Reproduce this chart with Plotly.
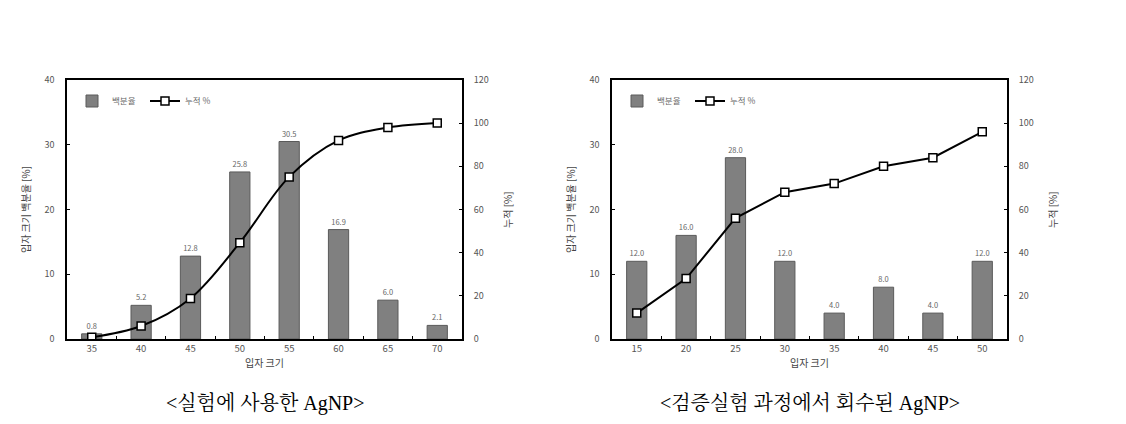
"""
Particle size distribution of AgNP: percentage bars with cumulative line
"""
import plotly.graph_objects as go
from plotly.subplots import make_subplots

# left panel: AgNP used in the experiment
sizes_used = ["35", "40", "45", "50", "55", "60", "65", "70"]
pct_used = [0.8, 5.2, 12.8, 25.8, 30.5, 16.9, 6.0, 2.1]
cum_used = [0.8, 6.0, 18.8, 44.6, 75.1, 92.0, 98.0, 100.1]

# right panel: AgNP recovered during verification
sizes_rec = ["15", "20", "25", "30", "35", "40", "45", "50"]
pct_rec = [12.0, 16.0, 28.0, 12.0, 4.0, 8.0, 4.0, 12.0]
cum_rec = [12, 28, 56, 68, 72, 80, 84, 96]

captions = ["<실험에 사용한 AgNP>", "<검증실험 과정에서 회수된 AgNP>"]

# the page body has an 8px margin, so the figure is drawn 8px in from the window edge
OFF = 8
W, H = 1126 - OFF, 424 - OFF
KFONT = "Noto Sans CJK KR"
SERIF = "Liberation Serif, Noto Serif CJK KR, Noto Sans CJK KR"
BAR_COLOR = "#808080"
TICK_COLOR = "#555555"


def px(x):
    return (x - OFF) / W


def py(y):
    return 1 - (y - OFF) / H


fig = make_subplots(rows=1, cols=2, specs=[[{"secondary_y": True}, {"secondary_y": True}]])

panels = [
    (sizes_used, pct_used, cum_used, "spline", "legend"),
    (sizes_rec, pct_rec, cum_rec, "linear", "legend2"),
]

for i, (cats, pct, cum, shape, leg) in enumerate(panels):
    col = i + 1
    fig.add_trace(go.Bar(
        x=cats, y=pct, name="백분율",
        marker=dict(color=BAR_COLOR, line=dict(color="#5a5a5a", width=1)),
        width=0.41,
        text=[f"{v:.1f}" for v in pct], textposition="outside",
        textfont=dict(size=7.5, color="#666666", family=KFONT),
        cliponaxis=False, legend=leg,
    ), row=1, col=col, secondary_y=False)
    fig.add_trace(go.Scatter(
        x=cats, y=cum, name="누적 %", mode="lines+markers",
        line=dict(color="black", width=2, shape=shape),
        marker=dict(symbol="square", size=8, color="white", line=dict(color="black", width=1.5)),
        legend=leg,
    ), row=1, col=col, secondary_y=True)

# plot areas in window pixels (left, right, top, bottom)
boxes = [(67, 462, 80, 339), (612, 1007, 80, 339)]
xnames = ["xaxis", "xaxis2"]
ynames = [("yaxis", "yaxis2"), ("yaxis3", "yaxis4")]

layout = {}
for (l, r, t, b), xn, (yn1, yn2) in zip(boxes, xnames, ynames):
    xd = [px(l), px(r)]
    yd = [py(b), py(t)]
    layout[xn] = dict(
        domain=xd, automargin=False,
        showline=True, linecolor="black", linewidth=1.5, mirror=True,
        ticks="inside", ticklen=3, tickson="boundaries", tickcolor="black",
        tickfont=dict(size=9.5, color=TICK_COLOR, family=KFONT),
        title=dict(text="입자 크기", font=dict(size=10, color="#444444", family=KFONT), standoff=4),
        showgrid=False,
    )
    layout[yn1] = dict(
        domain=yd, automargin=False, range=[0, 40], dtick=10,
        showline=True, linecolor="black", linewidth=1.5,
        ticks="inside", ticklen=3, tickcolor="black", showgrid=False, zeroline=False,
        tickfont=dict(size=9, color=TICK_COLOR, family=KFONT), ticklabelstandoff=9,
        title=dict(text="입자 크기 백분율 [%]", font=dict(size=10, color="#444444", family=KFONT), standoff=12),
    )
    layout[yn2] = dict(
        domain=yd, automargin=False, range=[0, 120], dtick=20,
        showline=True, linecolor="black", linewidth=2,
        ticks="inside", ticklen=3, tickcolor="black", showgrid=False, zeroline=False,
        tickfont=dict(size=9, color=TICK_COLOR, family=KFONT), ticklabelstandoff=8,
    )

legend_style = dict(
    orientation="h", xanchor="left", yanchor="middle", bgcolor="rgba(0,0,0,0)",
    font=dict(size=8.5, color="#666666", family=KFONT), tracegroupgap=0,
    entrywidth=28, entrywidthmode="pixels", itemwidth=30,
)
layout["legend"] = dict(legend_style, x=px(72), y=py(101))
layout["legend2"] = dict(legend_style, x=px(617), y=py(101))

fig.update_layout(
    width=W, height=H, margin=dict(l=0, r=0, t=0, b=0),
    plot_bgcolor="white", paper_bgcolor="white",
    bargap=0.6, showlegend=True, **layout,
)

# right axis titles
for x in (507, 1052):
    fig.add_annotation(
        text="누적 [%]", x=px(x), y=py(210), xref="paper", yref="paper",
        xanchor="center", yanchor="middle",
        textangle=-90, showarrow=False, font=dict(size=10, color="#444444", family=KFONT),
    )

# captions below each panel
for cap, x in zip(captions, (265, 810)):
    fig.add_annotation(
        text=cap, x=px(x), y=py(403), xref="paper", yref="paper",
        xanchor="center", yanchor="middle",
        showarrow=False, font=dict(size=20, color="black", family=SERIF),
    )

fig.write_html("out.html")
